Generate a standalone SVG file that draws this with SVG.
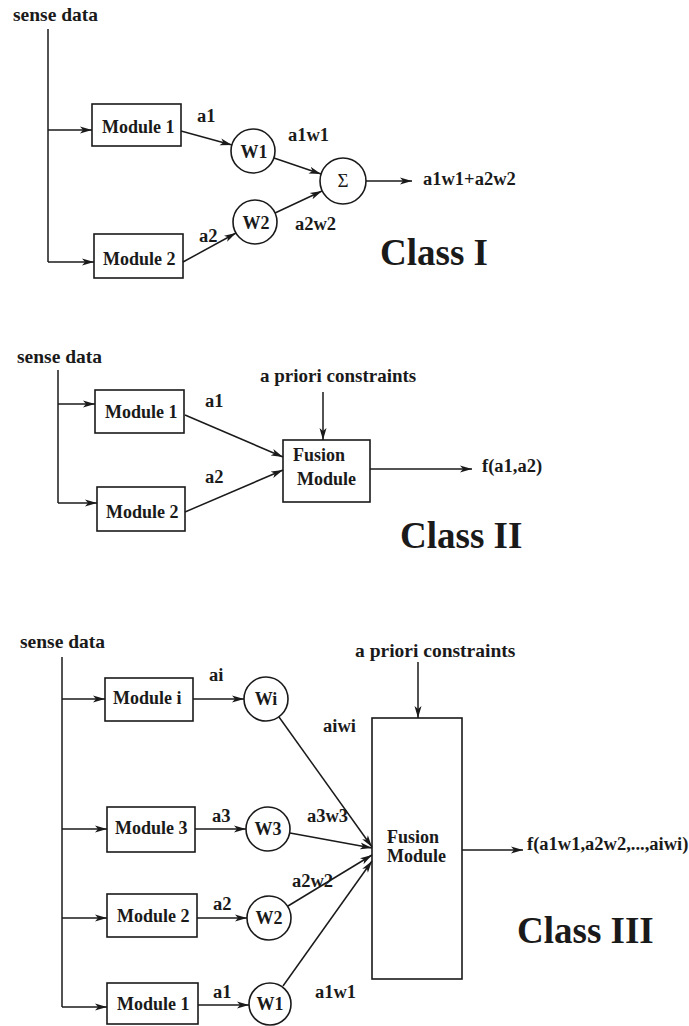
<svg xmlns="http://www.w3.org/2000/svg" width="689" height="1026" viewBox="0 0 689 1026">
<style>
text{font-family:"Liberation Serif","Times New Roman",serif;font-weight:bold;fill:#1a1a1a}
.lbl{font-size:18.5px}
.mod{font-size:18px}
.w{font-size:18px;text-anchor:middle}
.cls{font-size:37px}
.box{fill:none;stroke:#1a1a1a;stroke-width:1.6}
.c{fill:none;stroke:#1a1a1a;stroke-width:1.6}
.ln{fill:none;stroke:#1a1a1a;stroke-width:1.5}
.ar{marker-end:url(#ah)}
</style>
<defs>
<marker id="ah" markerUnits="userSpaceOnUse" markerWidth="12" markerHeight="8" refX="12" refY="4" orient="auto">
<path d="M0,0.5 L12,4 L0,7.5 L3,4 z" fill="#1a1a1a"/>
</marker>
</defs>
<rect width="689" height="1026" fill="#ffffff"/>

<!-- Class I -->
<g id="c1-sense"><text class="lbl" x="13" y="21" style="font-size:19.5px">sense data</text></g>
<g id="c1-module1"><rect class="box" x="92" y="104" width="89" height="42"/><text class="mod" x="102" y="133">Module 1</text></g>
<g id="c1-module2"><rect class="box" x="94" y="234" width="89" height="44"/><text class="mod" x="103" y="265">Module 2</text></g>
<g id="c1-w1"><circle class="c" cx="253" cy="151" r="22"/><text class="w" x="254" y="158">W1</text></g>
<g id="c1-w2"><circle class="c" cx="255" cy="222" r="22"/><text class="w" x="256" y="229">W2</text></g>
<g id="c1-sum"><circle class="c" cx="343" cy="181" r="23"/><text x="343" y="187" style="font-size:19px;font-weight:normal;text-anchor:middle">Σ</text></g>
<g id="c1-out"><text class="lbl" x="423" y="185">a1w1+a2w2</text></g>
<g id="c1-title"><text class="cls" x="380" y="265">Class I</text></g>

<!-- Class II -->
<g id="c2-sense"><text class="lbl" x="17" y="363" style="font-size:19.5px">sense data</text></g>
<g id="c2-module1"><rect class="box" x="95" y="390" width="89" height="43"/><text class="mod" x="105" y="418">Module 1</text></g>
<g id="c2-module2"><rect class="box" x="97" y="487" width="88" height="44"/><text class="mod" x="106" y="518">Module 2</text></g>
<g id="c2-constraints"><text class="lbl" x="260" y="382" style="font-size:19px">a priori constraints</text></g>
<g id="c2-fusion"><rect class="box" x="283" y="440" width="87" height="62"/><text class="mod" x="293" y="461">Fusion</text><text class="mod" x="297" y="485">Module</text></g>
<g id="c2-out"><text class="lbl" x="482" y="472">f(a1,a2)</text></g>
<g id="c2-title"><text class="cls" x="400" y="548">Class II</text></g>

<!-- Class III -->
<g id="c3-sense"><text class="lbl" x="20" y="648" style="font-size:19.5px">sense data</text></g>
<g id="c3-constraints"><text class="lbl" x="355" y="657" style="font-size:19.5px">a priori constraints</text></g>
<g id="c3-modulei"><rect class="box" x="105" y="678" width="88" height="43"/><text class="mod" x="113" y="704">Module i</text></g>
<g id="c3-module3"><rect class="box" x="107" y="807" width="88" height="45"/><text class="mod" x="115" y="834">Module 3</text></g>
<g id="c3-module2"><rect class="box" x="107" y="894" width="90" height="43"/><text class="mod" x="117" y="922">Module 2</text></g>
<g id="c3-module1"><rect class="box" x="107" y="983" width="91" height="41"/><text class="mod" x="117" y="1010">Module 1</text></g>
<g id="c3-wi"><circle class="c" cx="266" cy="699" r="22"/><text class="w" x="266" y="705">Wi</text></g>
<g id="c3-w3"><circle class="c" cx="268" cy="829" r="22"/><text class="w" x="268" y="835">W3</text></g>
<g id="c3-w2"><circle class="c" cx="269" cy="918" r="22"/><text class="w" x="269" y="924">W2</text></g>
<g id="c3-w1"><circle class="c" cx="270" cy="1004" r="21"/><text class="w" x="270" y="1010">W1</text></g>
<g id="c3-fusion"><rect class="box" x="372" y="718" width="90" height="261"/><text class="mod" x="387" y="843">Fusion</text><text class="mod" x="387" y="862">Module</text></g>
<g id="c3-out"><text class="lbl" x="527" y="850">f(a1w1,a2w2,...,aiwi)</text></g>
<g id="c3-title"><text class="cls" x="517" y="943">Class III</text></g>

<g id="connectors">
<!-- Class I -->
<path class="ln" d="M48,29 V262"/>
<path class="ln ar" d="M48,130 H92"/>
<path class="ln ar" d="M48,262 H94"/>
<path class="ln ar" d="M181,131 L232,145"/>
<path class="ln ar" d="M183,262 L236,233"/>
<path class="ln ar" d="M274,158 L321,174"/>
<path class="ln ar" d="M275,213 L322,191"/>
<path class="ln ar" d="M366,181 H412"/>
<!-- Class II -->
<path class="ln" d="M58,370 V503"/>
<path class="ln ar" d="M58,404 H95"/>
<path class="ln ar" d="M58,503 H97"/>
<path class="ln ar" d="M185,415 L283,457"/>
<path class="ln ar" d="M185,512 L283,470"/>
<path class="ln ar" d="M323,392 V440"/>
<path class="ln ar" d="M370,469 H472"/>
<!-- Class III -->
<path class="ln" d="M62,657 V1007"/>
<path class="ln ar" d="M62,699 H105"/>
<path class="ln ar" d="M62,829 H107"/>
<path class="ln ar" d="M62,918 H107"/>
<path class="ln ar" d="M62,1007 H107"/>
<path class="ln ar" d="M193,699 H244"/>
<path class="ln ar" d="M195,829 H246"/>
<path class="ln ar" d="M197,918 H247"/>
<path class="ln ar" d="M198,1005 H249"/>
<path class="ln ar" d="M279,717 L372,847"/>
<path class="ln ar" d="M290,833 L372,848"/>
<path class="ln ar" d="M288,906 L372,855"/>
<path class="ln ar" d="M283,986 L372,861"/>
<path class="ln ar" d="M418,662 V718"/>
<path class="ln ar" d="M462,850 H523"/>
</g>

<g id="edge-labels">
<text class="lbl" x="197" y="122">a1</text>
<text class="lbl" x="199" y="242">a2</text>
<text class="lbl" x="288" y="141">a1w1</text>
<text class="lbl" x="295" y="230">a2w2</text>
<text class="lbl" x="205" y="407">a1</text>
<text class="lbl" x="205" y="483">a2</text>
<text class="lbl" x="209" y="681">ai</text>
<text class="lbl" x="212" y="822">a3</text>
<text class="lbl" x="213" y="910">a2</text>
<text class="lbl" x="213" y="998">a1</text>
<text class="lbl" x="323" y="732">aiwi</text>
<text class="lbl" x="307" y="822">a3w3</text>
<text class="lbl" x="292" y="887">a2w2</text>
<text class="lbl" x="315" y="998">a1w1</text>
</g>
</svg>
